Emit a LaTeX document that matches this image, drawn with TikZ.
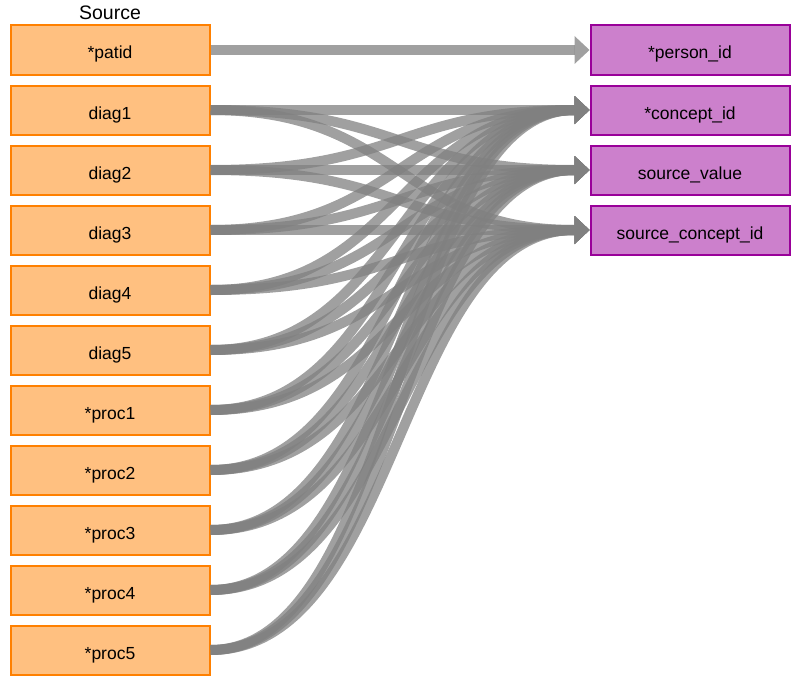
\documentclass[tikz,border=0pt]{standalone}
\usepackage{fontspec}
\setmainfont{Liberation Sans}
\usetikzlibrary{arrows.meta}

\definecolor{srcfill}{RGB}{255,192,128}
\definecolor{srcline}{RGB}{255,128,0}
\definecolor{tgtfill}{RGB}{204,128,204}
\definecolor{tgtline}{RGB}{153,0,153}
\definecolor{linkgray}{RGB}{128,128,128}

\begin{document}
\begin{tikzpicture}[
      x=1pt, y=-1pt,
      font=\fontsize{17.5}{20}\selectfont,
      srcbox/.style={draw=srcline, fill=srcfill, line width=2pt, minimum width=199pt, minimum height=49pt, inner sep=0pt, text height=18pt, text depth=0pt},
      tgtbox/.style={draw=tgtline, fill=tgtfill, line width=2pt, minimum width=199pt, minimum height=49pt, inner sep=0pt, text height=18pt, text depth=0pt},
      link/.style={line width=10pt, draw=linkgray, opacity=0.75, -{Triangle[length=15pt, width=28pt, line width=0pt]},
          to path={.. controls +(190,0) and +(-190,0) .. (\tikztotarget)}},
  ]

  \useasboundingbox (0,0) rectangle (800,685);

  % Source fields
  \node[font=\fontsize{19.5}{22}\selectfont, anchor=base] (srctitle) at (110, 20) {Source};
  \node[srcbox] (patid) at (110, 50) {*patid};
  \node[srcbox] (diag1) at (110, 110) {diag1};
  \node[srcbox] (diag2) at (110, 170) {diag2};
  \node[srcbox] (diag3) at (110, 230) {diag3};
  \node[srcbox] (diag4) at (110, 290) {diag4};
  \node[srcbox] (diag5) at (110, 350) {diag5};
  \node[srcbox] (proc1) at (110, 410) {*proc1};
  \node[srcbox] (proc2) at (110, 470) {*proc2};
  \node[srcbox] (proc3) at (110, 530) {*proc3};
  \node[srcbox] (proc4) at (110, 590) {*proc4};
  \node[srcbox] (proc5) at (110, 650) {*proc5};

  % Target fields
  \node[tgtbox] (personid) at (690, 50) {*person\_id};
  \node[tgtbox] (conceptid) at (690, 110) {*concept\_id};
  \node[tgtbox] (srcvalue) at (690, 170) {source\_value};
  \node[tgtbox] (srcconceptid) at (690, 230) {source\_concept\_id};

  % --- Mappings ---
  \draw[link] (patid.east) to (personid.west);

  \draw[link] (diag1.east) to (conceptid.west);
  \draw[link] (diag1.east) to (srcvalue.west);
  \draw[link] (diag1.east) to (srcconceptid.west);
  \draw[link] (diag2.east) to (conceptid.west);
  \draw[link] (diag2.east) to (srcvalue.west);
  \draw[link] (diag2.east) to (srcconceptid.west);
  \draw[link] (diag3.east) to (conceptid.west);
  \draw[link] (diag3.east) to (srcvalue.west);
  \draw[link] (diag3.east) to (srcconceptid.west);
  \draw[link] (diag4.east) to (conceptid.west);
  \draw[link] (diag4.east) to (srcvalue.west);
  \draw[link] (diag4.east) to (srcconceptid.west);
  \draw[link] (diag5.east) to (conceptid.west);
  \draw[link] (diag5.east) to (srcvalue.west);
  \draw[link] (diag5.east) to (srcconceptid.west);

  \draw[link] (proc1.east) to (conceptid.west);
  \draw[link] (proc1.east) to (srcvalue.west);
  \draw[link] (proc1.east) to (srcconceptid.west);
  \draw[link] (proc2.east) to (conceptid.west);
  \draw[link] (proc2.east) to (srcvalue.west);
  \draw[link] (proc2.east) to (srcconceptid.west);
  \draw[link] (proc3.east) to (conceptid.west);
  \draw[link] (proc3.east) to (srcvalue.west);
  \draw[link] (proc3.east) to (srcconceptid.west);
  \draw[link] (proc4.east) to (conceptid.west);
  \draw[link] (proc4.east) to (srcvalue.west);
  \draw[link] (proc4.east) to (srcconceptid.west);
  \draw[link] (proc5.east) to (conceptid.west);
  \draw[link] (proc5.east) to (srcvalue.west);
  \draw[link] (proc5.east) to (srcconceptid.west);

\end{tikzpicture}
\end{document}
